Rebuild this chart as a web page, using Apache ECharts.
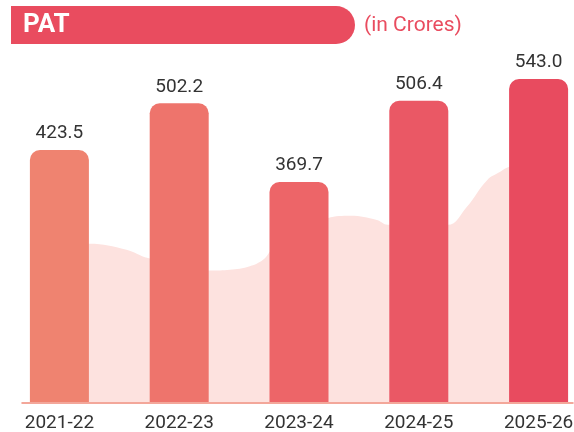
<!DOCTYPE html>
<html>
<head>
<meta charset="utf-8">
<script src="https://cdn.jsdelivr.net/npm/echarts@6/dist/echarts.min.js"></script>
<style>
  html, body { margin: 0; padding: 0; background: #fff; }
  #chart { width: 574px; height: 432px; }
</style>
</head>
<body>
<div id="chart"></div>
<script>
// 年度
const years = ['2021-22', '2022-23', '2023-24', '2024-25', '2025-26'];
// PAT（亿卢比）
const pat = [423.5, 502.2, 369.7, 506.4, 543.0];
// 柱子颜色，从浅到深
const barColors = ['#ef8370', '#ee746c', '#ed6568', '#ea5865', '#e84b5f'];
// 背景波浪 [位置, 高度]
const waveX = [0, 0.25, 0.56, 0.74, 1.25, 1.4, 1.57, 1.7, 1.8, 2.24, 2.43, 2.65, 2.74, 3.24, 3.4, 3.57, 3.68, 3.75, 4.0];
const waveY = [264, 266, 256, 242, 221, 222, 227, 239, 262, 309, 313, 306, 298, 298, 328, 373, 387, 395, 410];

const chart = echarts.init(document.getElementById('chart'));

const option = {
  animation: false,
  textStyle: { fontFamily: 'Roboto' },
  grid: [
    { left: -0.5, width: 599, top: 40, bottom: 30, outerBoundsMode: 'none', containLabel: false },
    // 只用来画底部轴线
    { left: 22, right: 1, top: 40, bottom: 29.5, outerBoundsMode: 'none' },
  ],
  xAxis: [
    {
      type: 'category',
      gridIndex: 0,
      data: years,
      axisLine: { show: false },
      axisTick: { show: false },
      axisLabel: { color: '#333', fontSize: 19, margin: 12, fontFamily: 'Roboto' },
    },
    {
      type: 'value',
      gridIndex: 0,
      min: -0.5,
      max: 4.5,
      show: false,
    },
    {
      type: 'category',
      gridIndex: 1,
      data: [],
      axisLine: { show: true, lineStyle: { color: '#f08a79', width: 1.5 } },
      axisTick: { show: false },
      axisLabel: { show: false },
    },
  ],
  yAxis: [
    { type: 'value', gridIndex: 0, min: 0, max: 608.6, show: false },
    { type: 'value', gridIndex: 1, show: false },
  ],
  series: [
    {
      type: 'line',
      xAxisIndex: 1,
      yAxisIndex: 0,
      smooth: 0.4,
      symbol: 'none',
      lineStyle: { width: 0 },
      areaStyle: { color: '#fde2df', opacity: 1 },
      data: waveX.map((x, i) => [x, waveY[i]]),
      z: 1,
    },
    {
      type: 'bar',
      xAxisIndex: 0,
      yAxisIndex: 0,
      barWidth: 59,
      z: 3,
      data: pat.map((v, i) => ({
        value: v,
        itemStyle: { color: barColors[i], borderRadius: [10, 10, 0, 0] },
      })),
      label: {
        show: true,
        position: 'top',
        distance: 7,
        color: '#333',
        fontSize: 19,
        fontFamily: 'Roboto',
        formatter: (p) => p.value.toFixed(1),
      },
    },
  ],
  graphic: [
    {
      type: 'rect',
      shape: { x: 11, y: 6, width: 344, height: 38, r: [0, 19, 19, 0] },
      style: { fill: '#e94c5f' },
    },
    {
      type: 'text',
      x: 23,
      y: 25,
      style: {
        text: 'PAT',
        fill: '#fff',
        font: 'bold 26px Roboto',
        textVerticalAlign: 'middle',
      },
    },
    {
      type: 'text',
      x: 364,
      y: 26,
      style: {
        text: '(in Crores)',
        fill: '#e94c5f',
        font: '21px Roboto',
        textVerticalAlign: 'middle',
      },
    },
  ],
};

chart.setOption(option);

window.addEventListener('resize', () => {
  chart.resize();
});
</script>
</body>
</html>
